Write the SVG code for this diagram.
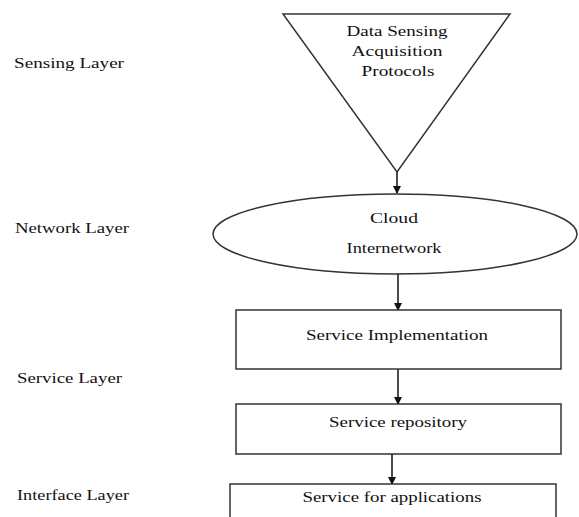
<svg xmlns="http://www.w3.org/2000/svg" width="579" height="517" viewBox="0 0 579 517">
<style>
.t{font-family:"Liberation Serif","Times New Roman",serif;font-size:15px;fill:#111;}
.m{text-anchor:middle;}
.s{fill:#fff;stroke:#333;stroke-width:1.5;}
.c{stroke:#111;stroke-width:1.5;fill:none;}
</style>
<defs>
<marker id="ah" markerWidth="8" markerHeight="8" refX="7" refY="4" orient="auto" markerUnits="userSpaceOnUse">
<path d="M0,0 L8,4 L0,8 z" fill="#111"/>
</marker>
</defs>
<rect width="579" height="517" fill="#fff"/>
<g id="labels">
<text class="t" x="14" y="68" textLength="110" lengthAdjust="spacingAndGlyphs">Sensing Layer</text>
<text class="t" x="15" y="233" textLength="114" lengthAdjust="spacingAndGlyphs">Network Layer</text>
<text class="t" x="17" y="383" textLength="105" lengthAdjust="spacingAndGlyphs">Service Layer</text>
<text class="t" x="17" y="500" textLength="112" lengthAdjust="spacingAndGlyphs">Interface Layer</text>
</g>
<g id="connectors">
<line class="c" x1="397" y1="172" x2="397" y2="193" marker-end="url(#ah)"/>
<line class="c" x1="398" y1="274" x2="398" y2="310" marker-end="url(#ah)"/>
<line class="c" x1="398" y1="369" x2="398" y2="404" marker-end="url(#ah)"/>
<line class="c" x1="392" y1="454" x2="392" y2="484" marker-end="url(#ah)"/>
</g>
<g id="sensing">
<polygon class="s" points="283,14 510,14 397,172"/>
<text class="t m" x="397" y="36" textLength="101" lengthAdjust="spacingAndGlyphs">Data Sensing</text>
<text class="t m" x="397" y="56" textLength="91" lengthAdjust="spacingAndGlyphs">Acquisition</text>
<text class="t m" x="398" y="76" textLength="73" lengthAdjust="spacingAndGlyphs">Protocols</text>
</g>
<g id="cloud">
<ellipse class="s" cx="395" cy="234" rx="182" ry="40"/>
<text class="t m" x="394" y="223" textLength="48" lengthAdjust="spacingAndGlyphs">Cloud</text>
<text class="t m" x="394" y="253" textLength="95" lengthAdjust="spacingAndGlyphs">Internetwork</text>
</g>
<g id="impl">
<rect class="s" x="236" y="310" width="325" height="59"/>
<text class="t m" x="397" y="340" textLength="182" lengthAdjust="spacingAndGlyphs">Service Implementation</text>
</g>
<g id="repo">
<rect class="s" x="236" y="404" width="325" height="50"/>
<text class="t m" x="398" y="427" textLength="138" lengthAdjust="spacingAndGlyphs">Service repository</text>
</g>
<g id="apps">
<rect class="s" x="230" y="484" width="326" height="40"/>
<text class="t m" x="392" y="502" textLength="179" lengthAdjust="spacingAndGlyphs">Service for applications</text>
</g>
</svg>
